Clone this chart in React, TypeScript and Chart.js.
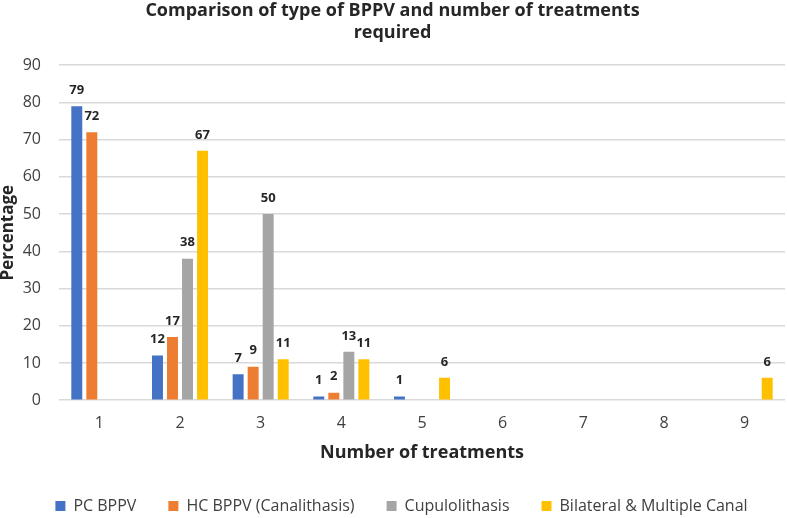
import React, { useEffect, useRef } from "react";
import { Chart, registerables } from "chart.js";

Chart.register(...registerables);

const categories = ["1", "2", "3", "4", "5", "6", "7", "8", "9"];
const pcBppv = [79, 12, 7, 1, 1, 0, 0, 0, 0];
const hcBppv = [72, 17, 9, 2, 0, 0, 0, 0, 0];
const cupulo = [0, 38, 50, 13, 0, 0, 0, 0, 0];
const bilateral = [0, 67, 11, 11, 6, 0, 0, 0, 6];
const seriesNames = ["PC BPPV", "HC BPPV (Canalithasis)", "Cupulolithasis", "Bilateral & Multiple Canal"];
const colors = ["#4472C4", "#ED7D31", "#A5A5A5", "#FFC000"];
const FONT = "'Open Sans', 'Noto Sans', sans-serif";

const labelPlugin = {
  id: "barLabels",
  afterLayout(chart: any) {
    const l = chart.legend;
    if (l) {
      l.left += 9;
      l.right += 9;
      l.top += 2;
      l.bottom += 2;
    }
  },
  afterDatasetsDraw(chart: any) {
    const ctx = chart.ctx;
    ctx.save();
    ctx.font = `bold 13px ${FONT}`;
    ctx.fillStyle = "#262626";
    ctx.textAlign = "center";
    ctx.textBaseline = "middle";
    chart.data.datasets.forEach((ds: any, i: number) => {
      const meta = chart.getDatasetMeta(i);
      meta.data.forEach((bar: any, j: number) => {
        const v = ds.data[j];
        if (!v) return;
        ctx.fillText(String(v), bar.x, bar.y - 16);
      });
    });
    ctx.restore();
  },
};

export default function App() {
  const ref = useRef<HTMLCanvasElement>(null);
  useEffect(() => {
    document.body.style.margin = "0";
    const data = [pcBppv, hcBppv, cupulo, bilateral];
    const chart = new Chart(ref.current!, {
      type: "bar",
      data: {
        labels: categories,
        datasets: data.map((d, i) => ({
          label: seriesNames[i],
          data: d,
          backgroundColor: colors[i],
          categoryPercentage: 0.745,
          barPercentage: 0.73,
        })),
      },
      options: {
        animation: false,
        responsive: false,
        maintainAspectRatio: false,
        layout: { padding: { left: 0, right: 2, top: 0, bottom: 0 } },
        plugins: {
          title: {
            display: true,
            text: ["Comparison of type of BPPV and number of treatments", "required"],
            font: { family: FONT, size: 18, weight: "bold" },
            color: "#262626",
            padding: { top: 0, bottom: 22 },
            lineHeight: 1.39,
          },
          legend: {
            position: "bottom",
            maxHeight: 54,
            labels: {
              font: { family: FONT, size: 16 },
              color: "#404040",
              boxWidth: 10,
              boxHeight: 10,
              padding: 32,
            },
          },
          tooltip: { enabled: false },
        },
        scales: {
          x: {
            grid: { display: false, drawTicks: false },
            border: { display: false },
            ticks: { font: { family: FONT, size: 16 }, color: "#404040", padding: 14 },
            title: {
              display: true,
              text: "Number of treatments",
              font: { family: FONT, size: 18, weight: "bold" },
              color: "#262626",
              padding: { top: -5, bottom: 0 },
            },
          },
          y: {
            min: 0,
            max: 90,
            afterFit: (scale: any) => {
              scale.width = 59;
            },
            ticks: { stepSize: 10, font: { family: FONT, size: 16 }, color: "#404040", padding: 18 },
            grid: { color: "#D9D9D9", lineWidth: 1.5, drawTicks: false },
            border: { display: false },
            title: {
              display: true,
              text: "Percentage",
              font: { family: FONT, size: 17, weight: "bold", lineHeight: 1 },
              color: "#262626",
              padding: { top: 0, bottom: 0 },
            },
          },
        },
      },
      plugins: [labelPlugin],
    });
    return () => chart.destroy();
  }, []);
  return (
    <div style={{ width: 787, height: 518 }}>
      <canvas ref={ref} width={787} height={518} style={{ display: "block" }} />
    </div>
  );
}
